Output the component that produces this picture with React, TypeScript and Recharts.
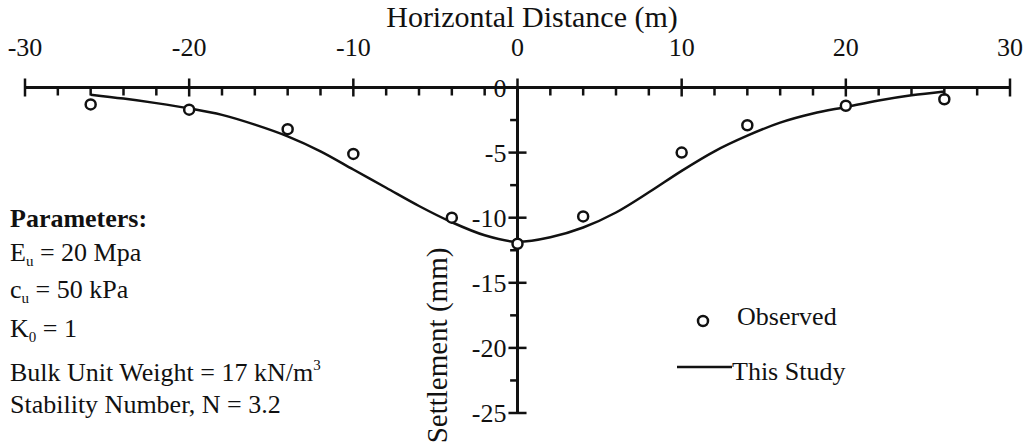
import {
  ComposedChart,
  Line,
  Scatter,
  XAxis,
  YAxis,
  ReferenceLine,
  ReferenceDot,
  Legend,
} from 'recharts'

const FONT = 'Liberation Serif, Tinos, DejaVu Serif, serif'
const INK = '#111'

// Surface settlement trough: offset from centreline (m) vs settlement (mm)
const obsX = [-26, -20, -14, -10, -4, 0, 4, 10, 14, 20, 26]
const obsY = [-1.3, -1.7, -3.2, -5.1, -10.0, -12.0, -9.9, -5.0, -2.9, -1.4, -0.9]

const fitX = [-26, -24, -22, -20, -18, -16, -14, -12, -10, -8, -6, -4, -2, 0, 2, 4, 6, 8, 10, 12, 14, 16, 18, 20, 22, 24, 26]
const fitY = [
  -0.55, -0.85, -1.2, -1.6, -2.1, -2.85, -3.75, -4.9, -6.3, -7.7, -9.1, -10.35, -11.35, -11.85,
  -11.5, -10.75, -9.6, -8.05, -6.4, -4.9, -3.7, -2.7, -2.0, -1.5, -1.0, -0.6, -0.3,
]

const xTicks = [-30, -28, -26, -24, -22, -20, -18, -16, -14, -12, -10, -8, -6, -4, -2, 0, 2, 4, 6, 8, 10, 12, 14, 16, 18, 20, 22, 24, 26, 28, 30]
const yMajor = [0, -5, -10, -15, -20, -25]
const yMinor = [-2.5, -7.5, -12.5, -17.5, -22.5]

const observed = obsX.map((x, i) => ({ x, y: obsY[i] }))
const fitted = fitX.map((x, i) => ({ x, y: fitY[i] }))

const textStyle = { fontFamily: FONT }

// x axis sits on the zero line: majors cross it, minors hang below
function TopTick(props: any) {
  const { x, y, payload } = props
  const v = payload.value as number
  const major = v % 10 === 0
  return (
    <g>
      <line x1={x} x2={x} y1={major ? y - 9 : y} y2={major ? y + 9 : y + 8} stroke={INK} strokeWidth={2.5} />
      {major && (
        <text x={x} y={y - 32} textAnchor="middle" style={textStyle} fontSize={26} fill={INK}>
          {v}
        </text>
      )}
    </g>
  )
}

function ObservedDot(props: any) {
  const { cx, cy } = props
  return <circle cx={cx} cy={cy} r={5} fill="#fff" stroke={INK} strokeWidth={2.5} />
}

function Key() {
  return (
    <svg width={200} height={100} style={{ display: 'block', overflow: 'visible', fontFamily: FONT }}>
      <circle cx={33} cy={26} r={5} fill="#fff" stroke={INK} strokeWidth={2.5} />
      <text x={67} y={30} fontSize={26} fill={INK}>Observed</text>
      <line x1={7} x2={62} y1={72} y2={72} stroke={INK} strokeWidth={2.5} />
      <text x={62} y={85} fontSize={26} fill={INK}>This Study</text>
    </svg>
  )
}

export default function App() {
  return (
    <div style={{ position: 'absolute', left: 0, top: 0, width: 1027, height: 446, background: '#fff', fontFamily: FONT }}>
      <ComposedChart width={1027} height={446} margin={{ top: 47.5, right: 17, bottom: 33, left: 25 }}>
        <XAxis
          type="number"
          dataKey="x"
          orientation="top"
          domain={[-30, 30]}
          ticks={xTicks}
          interval={0}
          height={40}
          tickSize={0}
          tickMargin={0}
          tickLine={false}
          axisLine={{ stroke: INK, strokeWidth: 3 }}
          tick={<TopTick />}
        />
        <YAxis type="number" dataKey="y" domain={[-25, 0]} hide width={0} />

        {/* vertical axis drawn through x = 0 */}
        <ReferenceLine segment={[{ x: 0, y: 0 }, { x: 0, y: -25 }]} stroke={INK} strokeWidth={3} />
        {yMajor.map(v => (
          <ReferenceLine key={`mj${v}`} segment={[{ x: -0.55, y: v }, { x: 0.55, y: v }]} stroke={INK} strokeWidth={2.5} />
        ))}
        {yMinor.map(v => (
          <ReferenceLine key={`mn${v}`} segment={[{ x: -0.45, y: v }, { x: 0, y: v }]} stroke={INK} strokeWidth={2.5} />
        ))}
        {yMajor.map(v => (
          <ReferenceDot
            key={`lb${v}`}
            x={0}
            y={v}
            r={0}
            stroke="none"
            fill="none"
            label={{ value: String(v), position: 'left', offset: 11, fill: INK, fontSize: 26, style: textStyle }}
          />
        ))}

        <Line
          data={fitted}
          dataKey="y"
          type="monotone"
          stroke={INK}
          strokeWidth={2.5}
          dot={false}
          isAnimationActive={false}
        />
        <Scatter data={observed} dataKey="y" shape={<ObservedDot />} isAnimationActive={false} />

        <Legend
          layout="vertical"
          align="center"
          verticalAlign="middle"
          content={<Key />}
          wrapperStyle={{ left: 670, top: 295, width: 200, height: 100 }}
        />
      </ComposedChart>

      <svg
        width={1027}
        height={446}
        style={{ position: 'absolute', left: 0, top: 0, pointerEvents: 'none', fontFamily: FONT }}
        fill={INK}
      >
        <text x={532} y={27} textAnchor="middle" fontSize={30}>Horizontal Distance (m)</text>
        <text transform="translate(447,345.5) rotate(-90)" textAnchor="middle" fontSize={29}>Settlement (mm)</text>

        <g fontSize={26}>
          <text x={10} y={227} fontWeight="bold">Parameters:</text>
          <text x={10} y={261}>
            E<tspan fontSize={15} dy={5}>u</tspan>
            <tspan dy={-5}>{' = 20 Mpa'}</tspan>
          </text>
          <text x={10} y={298}>
            c<tspan fontSize={15} dy={5}>u</tspan>
            <tspan dy={-5}>{' = 50 kPa'}</tspan>
          </text>
          <text x={10} y={337}>
            K<tspan fontSize={15} dy={5}>0</tspan>
            <tspan dy={-5}>{' = 1'}</tspan>
          </text>
          <text x={10} y={381}>
            {'Bulk Unit Weight = 17 kN/m'}
            <tspan fontSize={15} dy={-11}>3</tspan>
          </text>
          <text x={10} y={413}>Stability Number, N = 3.2</text>
        </g>
      </svg>
    </div>
  )
}
